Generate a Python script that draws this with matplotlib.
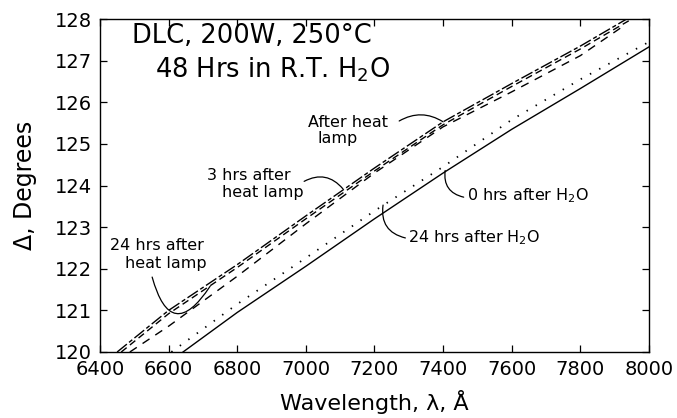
import matplotlib
matplotlib.use("Agg")
import matplotlib.pyplot as plt

# wavelength (Angstrom) and Delta (degrees)
lam_0h = [6642, 6800, 7000, 7200, 7400, 7600, 7800, 8000]
delta_0h = [120.0, 120.95, 122.06, 123.2, 124.3, 125.35, 126.33, 127.33]

lam_24h = [6608, 6800, 7000, 7200, 7400, 7600, 7800, 8000]
delta_24h = [120.0, 121.15, 122.26, 123.39, 124.45, 125.58, 126.55, 127.45]

lam_lamp = [6450, 6600, 6800, 7000, 7200, 7400, 7600, 7800, 7935]
delta_lamp = [120.0, 121.0, 122.1, 123.27, 124.42, 125.53, 126.45, 127.35, 128.0]

lam_lamp3 = [6462, 6600, 6800, 7000, 7200, 7400, 7600, 7800, 7950]
delta_lamp3 = [120.0, 120.92, 122.03, 123.2, 124.35, 125.46, 126.38, 127.28, 128.0]

lam_lamp24 = [6487, 6600, 6800, 7000, 7200, 7400, 7600, 7800, 7920]
delta_lamp24 = [120.0, 120.62, 121.82, 123.08, 124.3, 125.41, 126.25, 127.12, 127.8]

xticks = list(range(6400, 8001, 200))
yticks = list(range(120, 129))

fig = plt.figure(figsize=(6.77, 4.18), dpi=100)
ax = fig.add_axes([0.1477, 0.1579, 0.8109, 0.7966])

ax.plot(lam_0h, delta_0h, color='black', lw=1.0, ls='-')
ax.plot(lam_24h, delta_24h, color='black', lw=1.3, ls=(0, (0.8, 5)))
ax.plot(lam_lamp, delta_lamp, color='black', lw=1.0, ls=(0, (9, 2, 3, 2)))
ax.plot(lam_lamp3, delta_lamp3, color='black', lw=1.0, ls=(0, (5, 3)))
ax.plot(lam_lamp24, delta_lamp24, color='black', lw=1.0, ls=(0, (6, 5)))

ax.set_xlim(6400, 8000)
ax.set_ylim(120, 128)
ax.set_xticks(xticks)
ax.set_yticks(yticks)
ax.tick_params(direction='in', length=5, width=0.9, top=True, right=True,
               labelsize=14, pad=6)
for s in ax.spines.values():
    s.set_linewidth(1.0)

ax.set_xlabel('Wavelength, λ, Å', fontsize=16, labelpad=8)
ax.set_ylabel('Δ, Degrees', fontsize=17)
ax.yaxis.set_label_coords(-0.115, 0.5)

# title block inside the axes
ax.text(6493, 127.43, 'DLC, 200W, 250°C', fontsize=18.5, ha='left', va='baseline')
ax.text(6560, 126.59, '48 Hrs in R.T. H$_\\mathregular{2}$O', fontsize=18.5,
        ha='left', va='baseline')

lbl = dict(fontsize=11.5, ha='left', va='baseline')
ax.text(7006, 125.41, 'After heat', **lbl)
ax.text(7035, 125.03, 'lamp', **lbl)
ax.text(6712, 124.13, '3 hrs after', **lbl)
ax.text(6756, 123.72, 'heat lamp', **lbl)
ax.text(6429, 122.45, '24 hrs after', **lbl)
ax.text(6473, 122.02, 'heat lamp', **lbl)
ax.text(7470, 123.65, '0 hrs after H$_\\mathregular{2}$O', **lbl)
ax.text(7298, 122.64, '24 hrs after H$_\\mathregular{2}$O', **lbl)

# leader lines
lead = dict(arrowstyle='-', color='black', lw=0.9, shrinkA=0, shrinkB=0)
ax.annotate('', xy=(7400, 125.53), xytext=(7272, 125.55),
            arrowprops=dict(connectionstyle='arc3,rad=-0.3', **lead))
ax.annotate('', xy=(7108, 123.92), xytext=(6995, 124.1),
            arrowprops=dict(connectionstyle='arc3,rad=-0.4', **lead))
ax.annotate('', xy=(6721, 121.58), xytext=(6552, 121.8),
            arrowprops=dict(connectionstyle='arc3,rad=1.1', **lead))
ax.annotate('', xy=(7460, 123.72), xytext=(7406, 124.36),
            arrowprops=dict(connectionstyle='arc3,rad=0.45', **lead))
ax.annotate('', xy=(7290, 122.74), xytext=(7225, 123.53),
            arrowprops=dict(connectionstyle='arc3,rad=0.45', **lead))

fig.savefig('out.png', dpi=100)
